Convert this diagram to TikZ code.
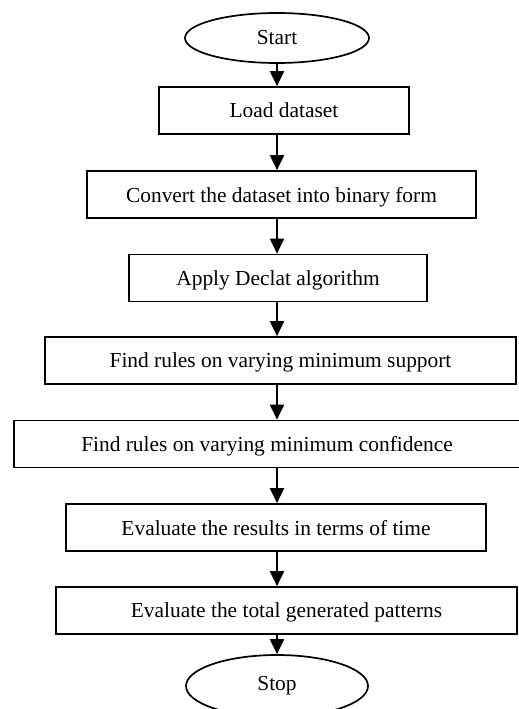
\documentclass[tikz,border=0pt]{standalone}
\usepackage{fontspec}
\setmainfont{Liberation Serif}
\usepackage{tikz}
\usetikzlibrary{calc,positioning,arrows.meta,shapes.geometric}

\tikzset{
    stepbox/.style={draw, line width=1.7pt, rectangle, minimum height=47pt, inner sep=0pt, text depth=0pt, yshift=-1pt},
    termbox/.style={draw, line width=1.7pt, ellipse, inner sep=0pt},
    flow/.style={line width=2pt, -{Triangle[width=14pt,length=15pt]}}
}

\begin{document}
\begin{tikzpicture}[x=1pt, y=-1pt, font=\fontsize{21.4}{25}\selectfont]

        \useasboundingbox (0,0) rectangle (519,709);

        % Draw start and stop ellipses
        \node[termbox, minimum width=184pt, minimum height=50pt] (start) at (277,38) {Start};
        \node[termbox, minimum width=182pt, minimum height=62pt] (stop) at (277,686) {Stop};

        % Draw the process steps (name/x/y/width/text)
        \foreach \nm/\cx/\cy/\w/\txt in {
            load/284/109.5/250/Load dataset,
            conv/281.5/193.5/389/Convert the dataset into binary form,
            apply/278/277/298/Apply Declat algorithm,
            supp/280.5/359.5/471/Find rules on varying minimum support,
            conf/267/443/506/Find rules on varying minimum confidence,
            evtime/276/526.5/420/Evaluate the results in terms of time,
            evpat/286.5/609.5/461/Evaluate the total generated patterns} {
                \node[stepbox, minimum width=\w pt] (\nm) at (\cx,\cy) {\txt};
            }

        % Draw arrows down the middle line
        \foreach \a/\b in {start/load, load/conv, conv/apply, apply/supp, supp/conf, conf/evtime, evtime/evpat, evpat/stop} {
            \draw[flow] (\a.south -| start.center) -- (\b.north -| start.center);
        }

\end{tikzpicture}
\end{document}
